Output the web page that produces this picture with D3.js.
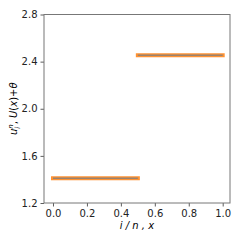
<!DOCTYPE html>
<html><head><meta charset="utf-8">
<script src="https://cdn.jsdelivr.net/npm/d3@7"></script>
<style>body{margin:0;background:#fff}svg{display:block}text{font-family:"DejaVu Sans",sans-serif}</style>
</head><body><svg id="c" width="240" height="240"></svg>
<script>
const xTicks = [0.0, 0.2, 0.4, 0.6, 0.8, 1.0];
const yTicks = [1.2, 1.6, 2.0, 2.4, 2.8];
const segX = [[0.0, 0.5], [0.5, 1.0]];
const segY = [1.41, 2.455];

const svg = d3.select("#c");
const L = 44, R = 230, T = 14.5, B = 203;
const x = d3.scaleLinear().domain([-0.053, 1.043]).range([L, R]);
const y = d3.scaleLinear().domain([1.2, 2.8]).range([B, T]);

const gx = svg.append("g").attr("transform", `translate(0,${B})`)
  .call(d3.axisBottom(x).tickValues(xTicks).tickFormat(d3.format(".1f")).tickSize(3.5).tickPadding(3));
const gy = svg.append("g").attr("transform", `translate(${L},0)`)
  .call(d3.axisLeft(y).tickValues(yTicks).tickFormat(d3.format(".1f")).tickSize(3.5).tickPadding(3));
[gx, gy].forEach(g => {
  g.select(".domain").remove();
  g.selectAll("line").attr("stroke", "#333").attr("stroke-width", 0.8);
  g.selectAll("text").attr("font-size", 10).attr("fill", "#222").attr("font-family", "DejaVu Sans");
});
svg.append("rect").attr("x", L).attr("y", T).attr("width", R - L).attr("height", B - T)
  .attr("fill", "none").attr("stroke", "#777").attr("stroke-width", 1);

segX.forEach((s, i) => {
  const pts = s.map(v => [x(v), y(segY[i])]);
  svg.append("path").attr("d", d3.line()(pts)).attr("stroke", "#ff7f0e").attr("stroke-opacity", 0.85)
    .attr("stroke-width", 4).attr("stroke-linecap", "square").attr("fill", "none");
  svg.append("path").attr("d", d3.line()(pts)).attr("stroke", "#7f7f7f").attr("stroke-opacity", 0.8)
    .attr("stroke-width", 1.5).attr("fill", "none");
});

// x label
svg.append("text").attr("x", (L + R) / 2).attr("y", 229).attr("text-anchor", "middle")
  .attr("font-size", 10).attr("font-style", "italic").text("i / n , x");
// y label
const yl = svg.append("text").attr("transform", `translate(17,${(T + B) / 2}) rotate(-90)`)
  .attr("text-anchor", "middle").attr("font-size", 10);
yl.append("tspan").attr("font-style", "italic").text("u");
yl.append("tspan").attr("font-style", "italic").attr("font-size", 7).attr("dy", 3).text("i");
yl.append("tspan").attr("font-style", "italic").attr("font-size", 7).attr("dy", -7).attr("dx", -2).text("n");
yl.append("tspan").attr("dy", 4).text(", ");
yl.append("tspan").attr("font-style", "italic").text("U");
yl.append("tspan").text("(");
yl.append("tspan").attr("font-style", "italic").text("x");
yl.append("tspan").text(")+");
yl.append("tspan").attr("font-style", "italic").text("θ");
</script></body></html>
